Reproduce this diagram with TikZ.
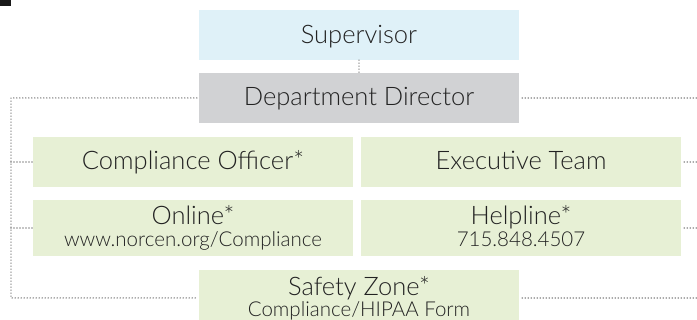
\documentclass[tikz,border=0pt]{standalone}
\usepackage{fontspec}
\setmainfont{Lato Light}
\usetikzlibrary{calc}
\definecolor{boxblue}{HTML}{DFF1F8}
\definecolor{boxgrey}{HTML}{D1D2D4}
\definecolor{boxgreen}{HTML}{E7F0D5}
\definecolor{inktext}{HTML}{222222}
\definecolor{dotgrey}{HTML}{8C8C8C}
\tikzset{
  unit/.style={rectangle, inner sep=0pt, minimum width=320pt, minimum height=50pt},
  tallunit/.style={unit, minimum height=56pt},
  head/.style={anchor=base, inner sep=0pt, text=inktext, font=\fontsize{25.5}{28}\selectfont},
  detail/.style={anchor=base, inner sep=0pt, text=inktext, font=\fontsize{20.5}{23}\selectfont},
  link/.style={draw=dotgrey, line width=1.6pt, line cap=round, dash pattern=on 0pt off 3pt}
}
\begin{document}
\begin{tikzpicture}[x=1pt,y=-1pt]
  \useasboundingbox (0,0) rectangle (697,320);
  % corner tab
  \fill[black!90] (0,0) rectangle (11,6.5);

  % boxes
  \node[unit, fill=boxblue]      (sup) at (359,35)  {};
  \node[unit, fill=boxgrey]      (dir) at (359,98)  {};
  \node[unit, fill=boxgreen]     (co)  at (193,162) {};
  \node[unit, fill=boxgreen]     (ex)  at (521,162) {};
  \node[tallunit, fill=boxgreen] (on)  at (193,228) {};
  \node[tallunit, fill=boxgreen] (hl)  at (521,228) {};
  \node[unit, fill=boxgreen]     (sz)  at (359,295) {};

  % labels, set on their baselines
  \node[head]   (supT) at (359,44)  {Supervisor};
  \node[head]   (dirT) at (359,106) {Department Director};
  \node[head]   (coT)  at (193,170) {Compliance Officer*};
  \node[head]   (exT)  at (521,170) {Executive Team};
  \node[head]   (onT)  at (193,225) {Online*};
  \node[detail] (onD)  at (193,247) {www.norcen.org/Compliance};
  \node[head]   (hlT)  at (521,225) {Helpline*};
  \node[detail] (hlD)  at (521,247) {715.848.4507};
  \node[head]   (szT)  at (359,296) {Safety Zone*};
  \node[detail] (szD)  at (359,317) {Compliance/HIPAA Form};

  % route points
  \coordinate (lt) at (11,98);
  \coordinate (lb) at (11,298);
  \coordinate (lc) at (11,162);
  \coordinate (lo) at (11,228);
  \coordinate (rt) at (697,98);
  \coordinate (rc) at (697,162);
  \coordinate (ro) at (697,228);
  \coordinate (rb) at (697,298);

  % connectors
  \draw[link] (sup.south) -- (dir.north);
  \draw[link] ($(dir.west)+(-2,0)$) -- (lt) -- (lb) -- ($(sz.west)+(-2,3)$);
  \draw[link] (lc) -- (co.west);
  \draw[link] (lo) -- (on.west);
  \draw[link] ($(dir.east)+(3,0)$) -- (rt);
  \draw[link] ($(ex.east)+(3,0)$) -- (rc);
  \draw[link] ($(hl.east)+(3,0)$) -- (ro);
  \draw[link] ($(sz.east)+(3,3)$) -- (rb);
\end{tikzpicture}
\end{document}
